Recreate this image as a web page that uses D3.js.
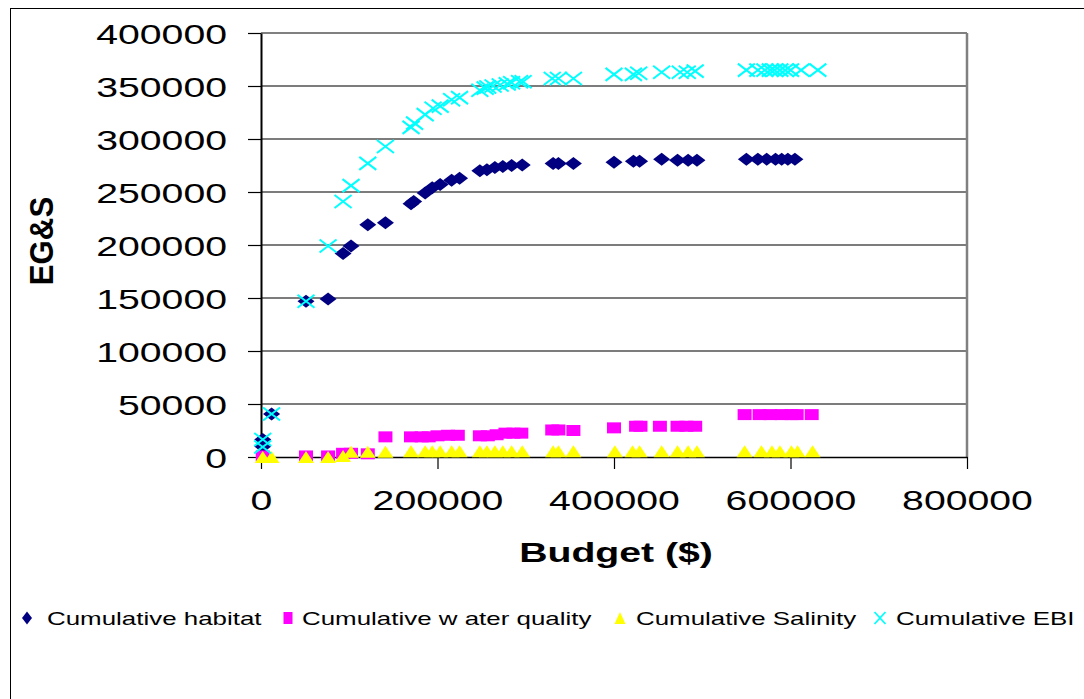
<!DOCTYPE html>
<html><head><meta charset="utf-8">
<script src="https://cdn.jsdelivr.net/npm/d3@7/dist/d3.min.js"></script>
<style>body{margin:0;background:#fff}svg{display:block}</style>
</head><body>
<svg id="c" width="1084" height="699"></svg>
<script>
const xTicks = [0, 200000, 400000, 600000, 800000];
const yTicks = [0, 50000, 100000, 150000, 200000, 250000, 300000, 350000, 400000];
const seriesNames = ["Cumulative habitat", "Cumulative w ater quality", "Cumulative Salinity", "Cumulative EBI"];
const habitat = [[2000,10000],[2000,16500],[12000,40500],[51000,147000],[76000,149000],[93000,192000],[102000,199000],[121000,219000],[141000,221000],[170000,239000],[173000,241000],[186000,249000],[194000,254000],[203000,257000],[216000,261000],[225000,263000],[248000,270000],[256000,271000],[265000,273000],[274000,274000],[284000,275000],[296000,275500],[331000,277000],[337000,277000],[354000,277000],[400000,278000],[422000,279000],[429000,279000],[454000,281000],[472000,280000],[484000,280000],[494000,280000],[550000,281000],[563000,281000],[573000,281000],[583000,281000],[590000,281000],[597000,281000],[605000,281000]];
const waterQuality = [[2000,1000],[51000,1000],[76000,1000],[93000,3500],[102000,3500],[121000,3000],[141000,19000],[170000,19000],[182000,19000],[190000,19000],[200000,20000],[212000,20500],[223000,20500],[248000,20000],[257000,20000],[267000,21000],[277000,22500],[286000,22500],[295000,22500],[330000,25500],[337000,25500],[354000,25000],[400000,27500],[425000,29000],[430000,29000],[452000,29000],[472000,29000],[482000,29000],[492000,29000],[548000,40000],[565000,40000],[577000,40000],[590000,40000],[601000,40000],[607000,40000],[624000,40000]];
const salinity = [[2000,0],[12000,0],[51000,0],[76000,0],[93000,1000],[102000,5000],[121000,5000],[141000,5000],[170000,5500],[186000,5500],[194000,5500],[203000,5500],[216000,5500],[225000,5500],[248000,5500],[256000,5500],[265000,5500],[274000,5500],[284000,5500],[296000,5500],[331000,5500],[337000,5500],[354000,5500],[401000,5500],[421000,5500],[429000,5500],[454000,5500],[472000,5500],[484000,5500],[494000,5500],[548000,5500],[567000,5500],[579000,5500],[588000,5500],[601000,5500],[608000,5500],[625000,5500]];
const ebi = [[2000,9500],[2000,16500],[12000,40500],[51000,147000],[76000,199000],[93000,241000],[102000,256000],[121000,277000],[141000,293000],[170000,311000],[174000,315000],[186000,323000],[195000,329000],[203000,331000],[216000,337000],[225000,339000],[248000,346000],[254000,348000],[257000,349000],[263000,350000],[271000,351000],[279000,352000],[284000,353000],[293000,354000],[297000,354000],[330000,357000],[337000,357000],[354000,357000],[400000,361000],[422000,361000],[428000,362000],[454000,363000],[475000,363000],[483000,363000],[492000,364000],[550000,365000],[563000,365000],[571000,365000],[577000,365000],[582000,365000],[588000,365000],[594000,365000],[600000,365000],[612000,365000],[631000,365000]];
const colors = ["#000080", "#FF00FF", "#FFFF00", "#00FFFF"];

const svg = d3.select("#c");
const x = d3.scaleLinear().domain([0, 800000]).range([261, 967]);
const y = d3.scaleLinear().domain([0, 400000]).range([457, 33]);

// outer frame
svg.append("rect").attr("x",10.5).attr("y",8.5).attr("width",1090).attr("height",710)
  .attr("fill","none").attr("stroke","#000").attr("stroke-width",1);

// gridlines
svg.append("g").selectAll("line").data(yTicks.filter(d=>d>0)).join("line")
  .attr("x1",x(0)).attr("x2",x(800000)).attr("y1",d=>y(d)).attr("y2",d=>y(d))
  .attr("stroke",(d,i)=> d===400000 ? "#808080" : "#505050").attr("stroke-width",d=> d===400000?2:1.5);
// right border of plot
svg.append("line").attr("x1",x(800000)).attr("x2",x(800000)).attr("y1",y(400000)).attr("y2",y(0))
  .attr("stroke","#808080").attr("stroke-width",2.5);

const font = "Liberation Sans, Arial, sans-serif";
// y axis
const yAxis = svg.append("g").attr("transform",`translate(${x(0)},0)`)
  .call(d3.axisLeft(y).tickValues(yTicks).tickSize(13).tickSizeOuter(0).tickFormat(d3.format("d")));
yAxis.select(".domain").attr("stroke","#000").attr("stroke-width",2);
yAxis.selectAll(".tick line").attr("stroke","#000").attr("stroke-width",1.2);
yAxis.selectAll(".tick text").attr("x",0).attr("dy","0.36em").attr("text-anchor","end")
  .attr("transform","translate(-34,0) scale(1.4,1)")
  .attr("font-family",font).attr("font-size",28).attr("fill","#000");

// x axis
const xAxis = svg.append("g").attr("transform",`translate(0,${y(0)})`)
  .call(d3.axisBottom(x).tickValues(xTicks).tickSize(12).tickSizeOuter(0).tickFormat(d3.format("d")));
xAxis.select(".domain").attr("stroke","#000").attr("stroke-width",1.5);
xAxis.selectAll(".tick line").attr("stroke","#000").attr("stroke-width",1.2);
xAxis.selectAll(".tick text").attr("y",0).attr("dy",0).attr("text-anchor","middle")
  .attr("transform","translate(0,53) scale(1.4,1)")
  .attr("font-family",font).attr("font-size",28).attr("fill","#000");

// titles
svg.append("text").attr("transform","translate(616,562) scale(1.4,1)").attr("text-anchor","middle")
  .attr("font-family",font).attr("font-weight","bold").attr("font-size",28).text("Budget ($)");
svg.append("text").attr("transform","translate(53,241) rotate(-90) scale(1.3,1.4)").attr("text-anchor","middle")
  .attr("font-family",font).attr("font-weight","bold").attr("font-size",24).text("EG&S");

// marker paths
function marker(type, w, h){
  const a=w/2, b=h/2;
  if(type===0) return `M0,${-b}L${a},0L0,${b}L${-a},0Z`;
  if(type===1) return `M${-a},${-b}H${a}V${b}H${-a}Z`;
  if(type===2) return `M0,${-b}L${a},${b}L${-a},${b}Z`;
  return `M${-a},${-b}L${a},${b}M${a},${-b}L${-a},${b}`;
}
const data = [habitat, waterQuality, salinity, ebi];
const sizes = [[17,13],[14,11],[16,12],[17,13]];
data.forEach((ser, si) => {
  svg.append("g").selectAll("path").data(ser).join("path")
    .attr("transform", d => `translate(${x(d[0])},${y(d[1])})`)
    .attr("d", marker(si, sizes[si][0], sizes[si][1]))
    .attr("fill", si===3 ? "none" : colors[si])
    .attr("stroke", si===3 ? colors[si] : "none")
    .attr("stroke-width", 2);
});

// legend
const legMarkX = [27, 288, 620, 880];
const legTextX = [47, 302, 636, 896];
const legSizes = [[10,13],[9,12],[11,12],[11,12]];
seriesNames.forEach((n, i) => {
  svg.append("path").attr("transform",`translate(${legMarkX[i]},618)`)
    .attr("d", marker(i, legSizes[i][0], legSizes[i][1]))
    .attr("fill", i===3 ? "none" : colors[i]).attr("stroke", i===3 ? colors[i] : "none").attr("stroke-width",1.8);
  svg.append("text").attr("transform",`translate(${legTextX[i]},625) scale(1.44,1)`)
    .attr("font-family",font).attr("font-size",18).attr("fill","#000").text(n);
});
</script>
</body></html>
